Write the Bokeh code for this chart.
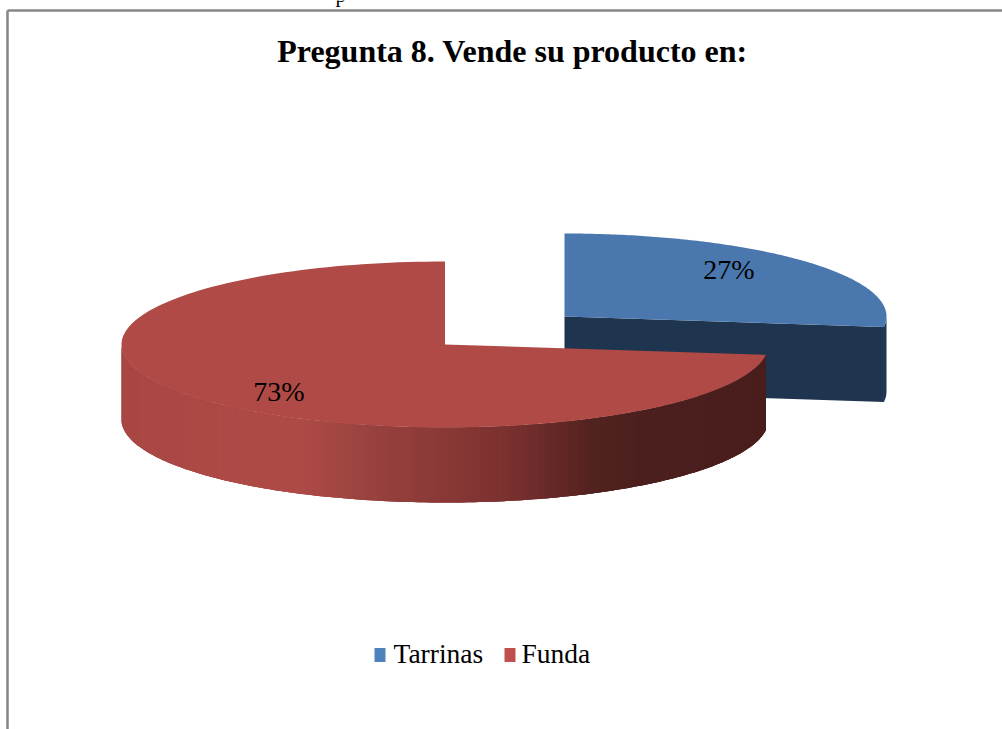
import math
from bokeh.plotting import figure
from bokeh.embed import file_html
from bokeh.resources import INLINE
from bokeh.core.properties import value

title = "Pregunta 8. Vende su producto en:"
categories = ["Tarrinas", "Funda"]
shares = [27, 73]
labels = ["27%", "73%"]
legend_colors = ["#4F81BD", "#C0504D"]
top_colors = ["#4A78AE", "#AF4A46"]
blue_side = "#1F344E"
red_stops = [(0.0, "#A84744"), (0.2, "#AE4A46"), (0.28, "#AE4A46"), (0.37, "#9B4340"),
             (0.495, "#8A3936"), (0.62, "#762F2E"), (0.73, "#522220"), (0.81, "#4B1F1D"), (1.0, "#4A1E1D")]
FRAME = "#868686"
SERIF = value("Liberation Serif")

W, H = 1002, 729
p = figure(width=W, height=H, x_range=(0, W), y_range=(H, 0), toolbar_location=None,
           output_backend="svg", min_border=0, outline_line_color=None,
           background_fill_color="white", border_fill_color="white", margin=(0, 0, 0, 0))
p.xaxis.visible = False
p.yaxis.visible = False
p.grid.visible = False

RY, DEPTH = 83, 75
blue_c = (564, 316, 322)
red_c = (444.5, 344, 323.5)


def pt(c, deg, dy=0):
    a = math.radians(deg)
    return c[0] + c[2] * math.sin(a), c[1] - RY * math.cos(a) + dy


def arc(c, a0, a1, dy=0, n=160):
    return [pt(c, a0 + (a1 - a0) * i / n, dy) for i in range(n + 1)]


def hex_mix(c0, c1, t):
    v0 = [int(c0[i:i + 2], 16) for i in (1, 3, 5)]
    v1 = [int(c1[i:i + 2], 16) for i in (1, 3, 5)]
    return "#%02x%02x%02x" % tuple(round(a + (b - a) * t) for a, b in zip(v0, v1))


def grad(t):
    for (t0, c0), (t1, c1) in zip(red_stops, red_stops[1:]):
        if t <= t1:
            return hex_mix(c0, c1, (t - t0) / (t1 - t0))
    return red_stops[-1][1]


# clockwise degrees from twelve o'clock, taken from the shares
split = 360 * shares[0] / sum(shares)

# blue slice (pulled out): radial wall, rim wall, then top
e = pt(blue_c, split)
p.patch([blue_c[0], e[0], e[0], blue_c[0]], [blue_c[1], e[1], e[1] + DEPTH, blue_c[1] + DEPTH],
        fill_color=blue_side, line_color=None)
rim = arc(blue_c, 90, split, n=20) + arc(blue_c, split, 90, DEPTH, n=20)
p.patch([q[0] for q in rim], [q[1] for q in rim], fill_color=blue_side, line_color=None)
wall = [blue_c[:2]] + arc(blue_c, 0, split)
p.patch([q[0] for q in wall], [q[1] for q in wall], fill_color=top_colors[0], line_color=None)

# red slice: gradient outer wall painted left to right, each strip running under the next
steps = 160
lo, hi = pt(red_c, 270)[0], pt(red_c, split)[0]
xs, ys, cols = [], [], []
for i in range(steps):
    a0 = 270 + (split - 270) * i / steps
    a1 = 270 + (split - 270) * min(i + 3, steps) / steps
    band = arc(red_c, a0, a1, n=3)
    xs.append([q[0] for q in band] + [q[0] for q in reversed(band)])
    ys.append([q[1] for q in band] + [q[1] + DEPTH for q in reversed(band)])
    mid = pt(red_c, 270 + (split - 270) * (i + 0.5) / steps)[0]
    cols.append(grad((mid - lo) / (hi - lo)))
p.patches(xs, ys, fill_color=cols, line_color=None)

top = [red_c[:2]] + arc(red_c, split, 360)
p.patch([q[0] for q in top], [q[1] for q in top], fill_color=top_colors[1], line_color=None)

# frame
p.line([7, W], [10, 10], line_color=FRAME, line_width=2.5)
p.line([7, 7], [10, H], line_color=FRAME, line_width=2.5)

# stray letter of the clipped text above the chart
p.text([335], [-6], text=["p"], text_font=SERIF, text_font_size="21px", text_baseline="alphabetic", text_color="black")

# title and data labels
p.text([512], [50], text=[title], text_font=SERIF, text_font_style="bold", text_font_size="32px",
       text_align="center", text_baseline="alphabetic", text_color="black")
p.text([728.5, 278.5], [269, 391], text=labels, text_font=SERIF, text_font_size="28px",
       text_align="center", text_baseline="alphabetic", text_color="black")

# legend
p.rect([379.5, 509.5], [654.5, 654.5], width=11, height=14, fill_color=legend_colors, line_color=None)
p.text([393, 521], [653, 653], text=categories, text_font=SERIF, text_font_size="27.5px",
       text_align="left", text_baseline="alphabetic", text_color="black")

open("out.html", "w").write(file_html(p, INLINE))
